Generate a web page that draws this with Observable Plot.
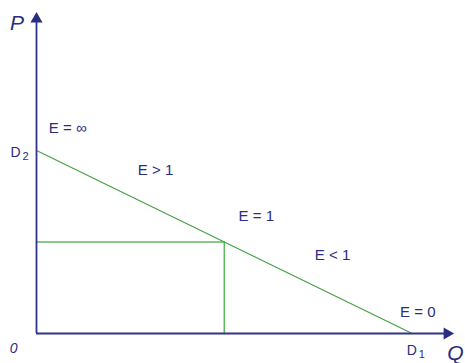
<!DOCTYPE html>
<html>
<head>
<meta charset="utf-8">
<script src="https://cdn.jsdelivr.net/npm/d3@7"></script>
<script src="https://cdn.jsdelivr.net/npm/@observablehq/plot@0.6"></script>
<style>
  html, body { margin: 0; padding: 0; background: #fff; }
  #chart { width: 465px; height: 363px; }
</style>
</head>
<body>
<div id="chart"></div>
<script>
// Demand curve endpoints (Q, P)
const demandQ = [0, 10];
const demandP = [10, 0];
// Unit-elastic point (midpoint)
const midQ = 5;
const midP = 5;
// Axis extents
const qMax = 11.1;
const pMax = 17.54;
// Elasticity labels
const labelText = ["E = ∞", "E > 1", "E = 1", "E < 1", "E = 0"];
const labelQ = [0.83, 3.17, 5.85, 7.88, 10.15];
const labelP = [11.2, 8.9, 6.39, 4.26, 1.15];
// Point labels: letter and subscript
const pointText = ["D", "D"];
const pointSub = ["2", "1"];
const pointQ = [-0.48, 10.07];
const pointP = [9.89, -0.93];
// Origin and axis labels
const originText = ["0"];
const axisText = ["P", "Q"];
const axisQ = [-0.52, 11.15];
const axisP = [16.95, -1.1];

const navy = "#2a2d82";
const axisNavy = "#30348a";
const green = "#45a045";
const lightGreen = "#62b862";
const font = "Liberation Sans, Arial, sans-serif";

const demand = demandQ.map((q, i) => ({q, p: demandP[i]}));
const rect = [{q: 0, p: midP}, {q: midQ, p: midP}, {q: midQ, p: 0}];
const labels = labelText.map((t, i) => ({t, q: labelQ[i], p: labelP[i]}));
const points = pointText.map((t, i) => ({t, s: pointSub[i], q: pointQ[i], p: pointP[i]}));
const axes = axisText.map((t, i) => ({t, q: axisQ[i], p: axisP[i]}));

const chart = Plot.plot({
  width: 465,
  height: 363,
  marginLeft: 36,
  marginRight: 12,
  marginTop: 12,
  marginBottom: 30,
  x: {domain: [0, qMax], axis: null},
  y: {domain: [0, pMax], axis: null},
  style: {fontFamily: font, background: "#fff"},
  marks: [
    Plot.line(rect, {x: "q", y: "p", stroke: lightGreen, strokeWidth: 1.6}),
    Plot.line(demand, {x: "q", y: "p", stroke: green, strokeWidth: 1.2}),
    Plot.ruleX([0], {y1: 0, y2: pMax - 0.4, stroke: axisNavy, strokeWidth: 1.8}),
    Plot.ruleY([0], {x1: 0, x2: qMax - 0.2, stroke: axisNavy, strokeWidth: 1.8}),
    Plot.dot([{q: 0, p: pMax - 0.35}], {x: "q", y: "p", symbol: "triangle", r: 4.5, fill: navy, stroke: null}),
    Plot.dot([{q: qMax - 0.17, p: 0}], {x: "q", y: "p", symbol: "triangle", r: 4.5, fill: navy, stroke: null, rotate: 90}),
    Plot.text(labels, {x: "q", y: "p", text: "t", fill: navy, fontSize: 15}),
    Plot.text(points, {x: "q", y: "p", text: "t", fill: navy, fontSize: 14, dx: -3}),
    Plot.text(points, {x: "q", y: "p", text: "s", fill: navy, fontSize: 11, dx: 7, dy: 4}),
    Plot.text(originText, {x: -0.61, y: -0.82, text: d => d, fill: navy, fontSize: 14, fontStyle: "italic"}),
    Plot.text(axes, {x: "q", y: "p", text: "t", fill: navy, fontSize: 21, fontStyle: "italic"})
  ]
});
document.getElementById("chart").appendChild(chart);
</script>
</body>
</html>
